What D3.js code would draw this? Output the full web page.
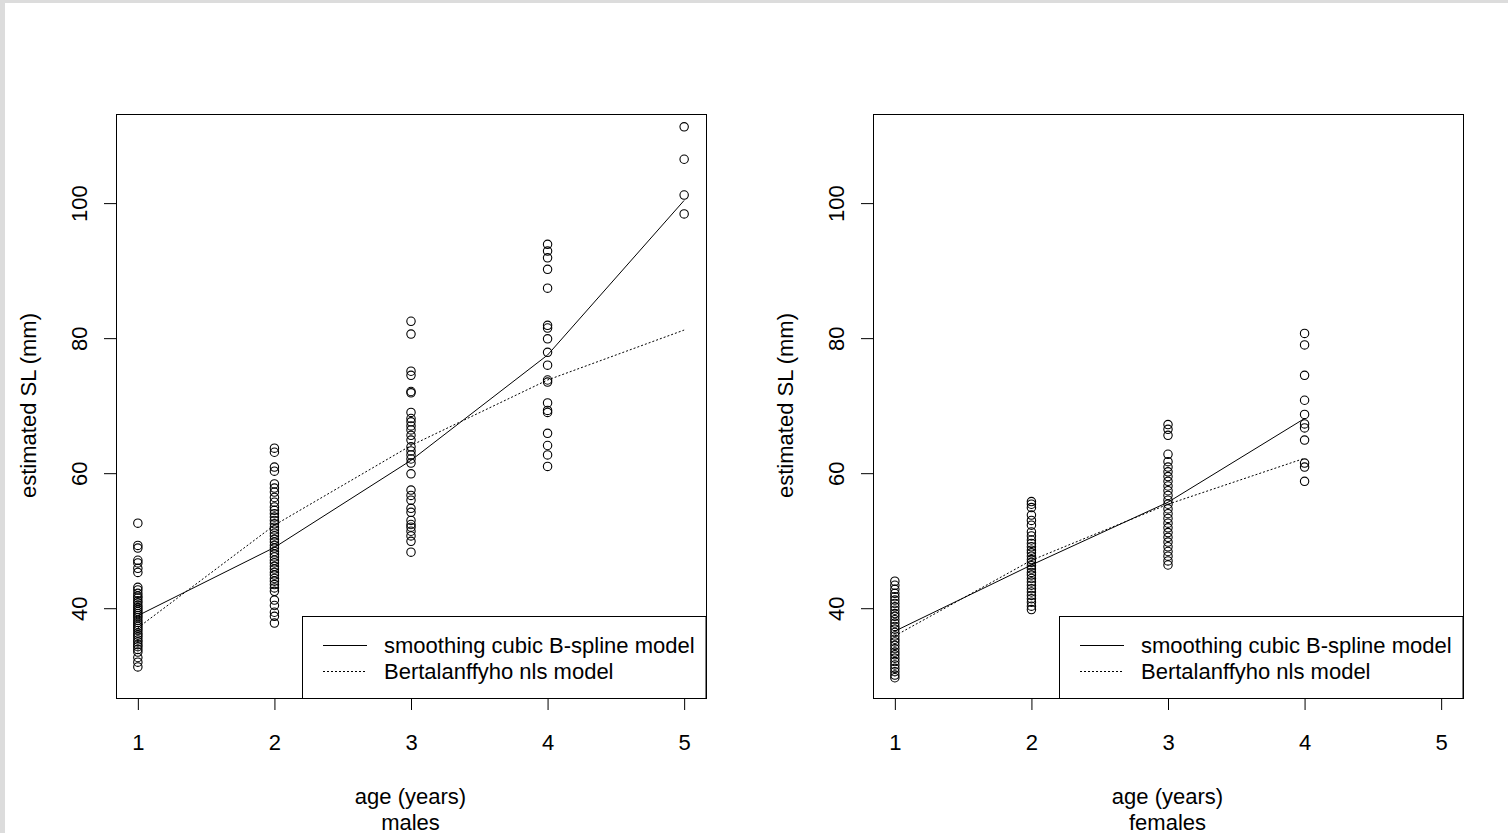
<!DOCTYPE html>
<html>
<head>
<meta charset="utf-8">
<script src="https://cdn.jsdelivr.net/npm/d3@7"></script>
<style>
html,body{margin:0;padding:0;background:#fff;}
body{width:1508px;height:833px;overflow:hidden;}
svg{display:block;}
text{font-family:"Liberation Sans",Arial,sans-serif;fill:#000;}
</style>
</head>
<body>
<svg id="chart" width="1508" height="833"></svg>
<script>
// ---- data ----
const ageTicks = [1, 2, 3, 4, 5];
const slTicks = [40, 60, 80, 100];

const maleSL1 = [52.6, 49.3, 48.9, 47.1, 46.7, 45.9, 45.3, 43.1, 42.7, 42.2, 41.8, 41.5, 41.1, 40.8, 40.4, 40.1, 39.8, 39.5, 39.2, 38.9, 38.6, 38.2, 37.9, 37.6, 37.3, 37.0, 36.7, 36.3, 36.0, 35.7, 35.3, 35.0, 34.6, 34.3, 33.9, 33.5, 32.7, 32.0, 31.3];
const maleSL2 = [63.7, 63.1, 60.9, 60.3, 58.4, 57.8, 57.2, 56.4, 55.7, 55.0, 54.5, 54.0, 53.5, 53.0, 52.5, 52.0, 51.6, 51.1, 50.7, 50.2, 49.8, 49.3, 48.9, 48.4, 48.0, 47.6, 47.1, 46.7, 46.2, 45.8, 45.3, 44.9, 44.4, 44.0, 43.5, 43.0, 42.5, 41.2, 40.4, 39.4, 38.8, 37.8];
const maleSL3 = [82.5, 80.6, 75.1, 74.5, 72.1, 71.9, 69.0, 68.1, 67.6, 67.0, 66.4, 65.6, 64.9, 63.9, 63.3, 62.7, 62.1, 61.5, 59.9, 57.5, 56.7, 56.0, 54.8, 54.2, 53.0, 52.4, 52.0, 51.4, 50.7, 49.9, 48.3];
const maleSL4 = [93.9, 92.9, 91.9, 90.2, 87.4, 81.9, 81.5, 79.9, 77.9, 76.0, 73.8, 73.5, 70.4, 69.3, 69.0, 65.9, 64.1, 62.7, 61.0];
const maleSL5 = [111.3, 106.5, 101.2, 98.4];

const femaleSL1 = [44.0, 43.4, 42.8, 42.2, 41.7, 41.2, 40.7, 40.2, 39.7, 39.2, 38.8, 38.3, 37.8, 37.3, 36.9, 36.4, 35.9, 35.4, 35.0, 34.5, 34.0, 33.5, 33.1, 32.6, 32.1, 31.6, 31.1, 30.6, 30.1, 29.7];
const femaleSL2 = [55.8, 55.4, 54.9, 53.8, 53.0, 52.3, 51.3, 50.7, 50.1, 49.6, 49.1, 48.6, 48.2, 47.7, 47.2, 46.8, 46.3, 45.8, 45.3, 44.9, 44.4, 43.9, 43.4, 42.9, 42.4, 41.9, 41.4, 40.9, 40.3, 39.8];
const femaleSL3 = [67.2, 66.5, 65.6, 62.8, 61.7, 60.9, 60.2, 59.5, 58.8, 58.1, 57.4, 56.7, 56.0, 55.4, 54.7, 54.0, 53.3, 52.6, 51.9, 51.2, 50.5, 49.8, 49.1, 48.4, 47.7, 47.0, 46.4];
const femaleSL4 = [80.7, 79.0, 74.5, 70.8, 68.7, 67.3, 66.7, 64.9, 61.5, 60.9, 58.8];

const maleSplineAges = [1, 2, 3, 4, 5];
const maleSplineSL = [38.9, 49.0, 61.9, 77.5, 100.4];
const maleVbAges = [1, 2, 3, 4, 5];
const maleVbSL = [37.1, 52.3, 64.1, 73.8, 81.2];

const femaleSplineAges = [1, 2, 3, 4];
const femaleSplineSL = [36.6, 46.4, 55.7, 68.1];
const femaleVbAges = [1, 2, 3, 4];
const femaleVbSL = [35.9, 47.1, 55.4, 62.2];

const legendLabels = ["smoothing cubic B-spline model", "Bertalanffyho nls model"];
const panelTitles = ["males", "females"];
const xTitle = "age (years)";
const yTitle = "estimated SL (mm)";

// ---- drawing ----
const svg = d3.select("#chart");
// grey frame
svg.append("rect").attr("x", 0).attr("y", 0).attr("width", 1508).attr("height", 3).attr("fill", "#dcdcdc");
svg.append("rect").attr("x", 0).attr("y", 0).attr("width", 5).attr("height", 833).attr("fill", "#dcdcdc");

const panels = [
  {x0: 116, x1: 706, groups: [maleSL1, maleSL2, maleSL3, maleSL4, maleSL5],
   spline: [maleSplineAges, maleSplineSL], vb: [maleVbAges, maleVbSL], title: panelTitles[0]},
  {x0: 873, x1: 1463, groups: [femaleSL1, femaleSL2, femaleSL3, femaleSL4],
   spline: [femaleSplineAges, femaleSplineSL], vb: [femaleVbAges, femaleVbSL], title: panelTitles[1]}
];
const yTop = 114, yBot = 698;
const FS = 22;

panels.forEach(p => {
  const x = d3.scaleLinear().domain([0.84, 5.16]).range([p.x0, p.x1]);
  const y = d3.scaleLinear().domain([26.7, 113.2]).range([yBot, yTop]);
  const g = svg.append("g");

  // x axis
  const xa = g.append("g").attr("transform", `translate(0,${yBot})`)
    .call(d3.axisBottom(x).tickValues(ageTicks).tickSize(12).tickPadding(10).tickFormat(d3.format("d")));
  xa.select(".domain").remove();
  xa.selectAll("line").attr("stroke", "#000").attr("stroke-width", 1);
  xa.selectAll("text").attr("font-size", FS).attr("font-family", "Liberation Sans, Arial, sans-serif").attr("fill", "#000")
    .attr("dy", null).attr("y", 44).attr("dominant-baseline", "central");

  // y axis
  const ya = g.append("g").attr("transform", `translate(${p.x0},0)`)
    .call(d3.axisLeft(y).tickValues(slTicks).tickSize(12).tickFormat(d3.format("d")));
  ya.select(".domain").remove();
  ya.selectAll("line").attr("stroke", "#000").attr("stroke-width", 1);
  ya.selectAll("text").attr("font-size", FS).attr("font-family", "Liberation Sans, Arial, sans-serif").attr("fill", "#000")
    .attr("text-anchor", "middle").attr("x", null).attr("dy", null)
    .attr("transform", "translate(-37,0) rotate(-90)").attr("y", 0).attr("dominant-baseline", "central");

  // axis titles
  g.append("text").attr("x", (p.x0 + p.x1) / 2 - 0.5).attr("y", 796).attr("dominant-baseline", "central").attr("text-anchor", "middle").attr("font-size", FS).text(xTitle);
  g.append("text").attr("x", (p.x0 + p.x1) / 2 - 0.5).attr("y", 822).attr("dominant-baseline", "central").attr("text-anchor", "middle").attr("font-size", FS).text(p.title);
  g.append("text").attr("transform", `translate(${p.x0 - 88},${(yTop + yBot) / 2 - 0.5}) rotate(-90)`)
    .attr("dominant-baseline", "central").attr("text-anchor", "middle").attr("font-size", FS).text(yTitle);

  // points
  p.groups.forEach((vals, i) => {
    g.append("g").selectAll("circle").data(vals).join("circle")
      .attr("cx", x(ageTicks[i])).attr("cy", d => y(d)).attr("r", 4.2)
      .attr("fill", "none").attr("stroke", "#000").attr("stroke-width", 1.1);
  });

  // lines (fitted values at the observed ages, joined by straight segments)
  const line = d3.line().x(d => x(d[0])).y(d => y(d[1]));
  g.append("path").datum(d3.zip(p.spline[0], p.spline[1])).attr("d", line)
    .attr("fill", "none").attr("stroke", "#000").attr("stroke-width", 1);
  g.append("path").datum(d3.zip(p.vb[0], p.vb[1])).attr("d", line)
    .attr("fill", "none").attr("stroke", "#000").attr("stroke-width", 1).attr("stroke-dasharray", "2,2");

  // legend
  const lx0 = p.x0 + 186, ly0 = 616;
  g.append("rect").attr("x", lx0 + 0.5).attr("y", ly0 + 0.5).attr("width", p.x1 - lx0 - 0.5).attr("height", yBot - ly0)
    .attr("fill", "#fff").attr("stroke", "#000").attr("stroke-width", 1);
  [0, 1].forEach(k => {
    const yy = 645.5 + k * 26;
    g.append("line").attr("x1", lx0 + 21).attr("x2", lx0 + 65).attr("y1", yy).attr("y2", yy)
      .attr("stroke", "#000").attr("stroke-width", 1).attr("stroke-dasharray", k ? "2,2" : null);
    g.append("text").attr("x", lx0 + 82).attr("y", yy).attr("dominant-baseline", "central")
      .attr("font-size", FS).text(legendLabels[k]);
  });

  // plot box
  g.append("rect").attr("x", p.x0 + 0.5).attr("y", yTop + 0.5).attr("width", p.x1 - p.x0).attr("height", yBot - yTop)
    .attr("fill", "none").attr("stroke", "#000").attr("stroke-width", 1);
});
</script>
</body>
</html>
